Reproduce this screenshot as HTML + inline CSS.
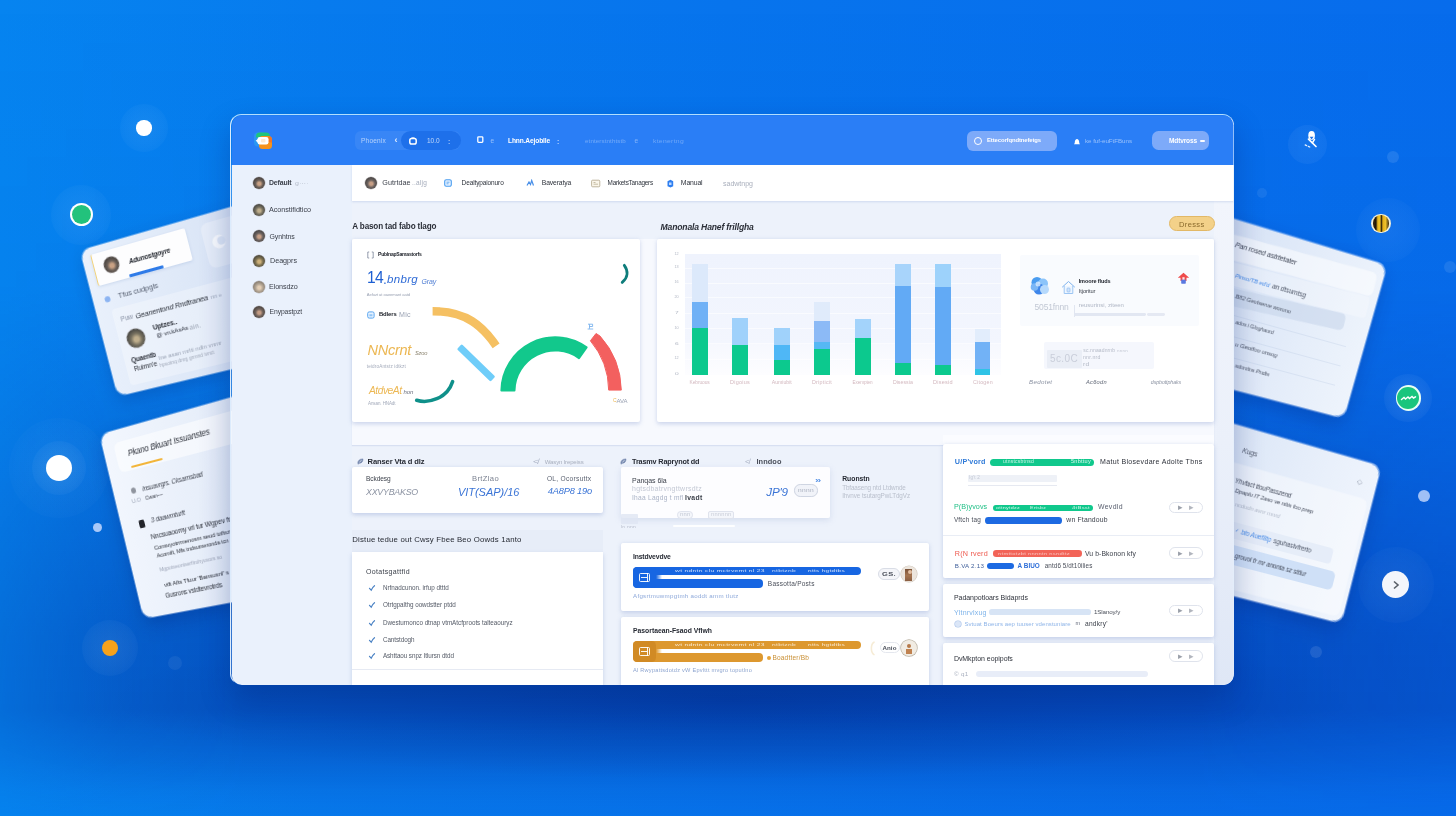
<!DOCTYPE html>
<html lang="en"><head><meta charset="utf-8"><title>Dashboard</title><style>
html,body{margin:0;padding:0}
body{width:1456px;height:816px;overflow:hidden;position:relative;font-family:"Liberation Sans",sans-serif;
background:
 radial-gradient(ellipse 620px 80px at 732px 700px,rgba(2,30,110,.36) 0,rgba(2,30,110,.16) 55%,rgba(2,30,110,0) 100%),
 linear-gradient(90deg,#0684f0 0%,#077bee 22%,#0774ed 50%,#076cec 100%);}
.a{position:absolute;display:block}
.t{position:absolute;white-space:nowrap;line-height:1;transform:translateY(-50%);display:block}
#shade{position:absolute;left:0;top:0;width:1456px;height:816px;background:linear-gradient(180deg,rgba(3,42,150,0) 0%,rgba(3,42,150,.04) 35%,rgba(3,42,150,.26) 58%,rgba(3,42,150,.48) 78%,rgba(3,42,150,.50) 87%,rgba(3,42,150,.28) 93%,rgba(3,42,150,.10) 97%,rgba(3,42,150,.03) 100%);-webkit-mask-image:linear-gradient(90deg,rgba(0,0,0,.5) 0%,rgba(0,0,0,.85) 8%,#000 17%,#000 82%,rgba(0,0,0,.75) 100%);mask-image:linear-gradient(90deg,rgba(0,0,0,.5) 0%,rgba(0,0,0,.85) 8%,#000 17%,#000 82%,rgba(0,0,0,.75) 100%)}
#win{position:absolute;left:0;top:0;width:1456px;height:816px;clip-path:inset(115.300px 222.600px 131px 231.800px round 10px)}
#frame{position:absolute;left:230.300px;top:113.800px;width:1001.600px;height:569.700px;border-radius:11.500px;border:1.500px solid;border-color:#b2defe #dcebfc rgba(225,240,255,.0) #dcebfc;box-shadow:0 14px 30px rgba(0,30,110,.30);}
</style></head>
<body>
<div id="shade"></div>
<div class="a" style="left:120.0px;top:104.0px;width:48.0px;height:48.0px;background:radial-gradient(circle,rgba(255,255,255,0.07) 0,rgba(255,255,255,0.039) 55%,rgba(255,255,255,0) 100%);border-radius:24px;"></div>
<div class="a" style="left:136.4px;top:120.4px;width:15.2px;height:15.2px;background:#fff;border-radius:7.6px;"></div>
<div class="a" style="left:51.0px;top:184.5px;width:60.0px;height:60.0px;background:radial-gradient(circle,rgba(255,255,255,0.07) 0,rgba(255,255,255,0.039) 55%,rgba(255,255,255,0) 100%);border-radius:30px;"></div>
<div class="a" style="left:69.8px;top:203.2px;width:22.8px;height:22.8px;background:#fff;border-radius:11.4px;"></div>
<div class="a" style="left:71.6px;top:205.0px;width:19.2px;height:19.2px;background:#22c27c;border-radius:9.6px;"></div>
<div class="a" style="left:9.0px;top:418.0px;width:100.0px;height:100.0px;background:radial-gradient(circle,rgba(255,255,255,0.045) 0,rgba(255,255,255,0.025) 55%,rgba(255,255,255,0) 100%);border-radius:50px;"></div>
<div class="a" style="left:32.0px;top:441.0px;width:54.0px;height:54.0px;background:radial-gradient(circle,rgba(255,255,255,0.09) 0,rgba(255,255,255,0.050) 55%,rgba(255,255,255,0) 100%);border-radius:27px;"></div>
<div class="a" style="left:45.6px;top:454.6px;width:26.4px;height:26.4px;background:#fff;border-radius:13.2px;"></div>
<div class="a" style="left:92.8px;top:523.1px;width:9.2px;height:9.2px;background:#a9c8f8;border-radius:4.6px;"></div>
<div class="a" style="left:82.0px;top:620.0px;width:56.0px;height:56.0px;background:radial-gradient(circle,rgba(255,255,255,0.08) 0,rgba(255,255,255,0.044) 55%,rgba(255,255,255,0) 100%);border-radius:28px;"></div>
<div class="a" style="left:101.6px;top:640.0px;width:16.0px;height:16.0px;background:#f7a21b;border-radius:8px;"></div>
<div class="a" style="left:167.6px;top:655.6px;width:14.0px;height:14.0px;background:rgba(255,255,255,.06);border-radius:7px;"></div>
<div class="a" style="left:1288.0px;top:124.6px;width:39.0px;height:39.0px;background:radial-gradient(circle,rgba(255,255,255,.06) 0,rgba(255,255,255,.045) 70%,rgba(255,255,255,0) 100%);border-radius:19.5px;"></div>
<svg class="a" style="left:1300px;top:128px" width="22" height="24" viewBox="1300 128 22 24"><ellipse cx="1311.600" cy="135.500" rx="3.300" ry="4.400" fill="#fff"/><path d="M1309.700 136.800l1.900 2.600 1.900-2.600z" fill="#1a6fe8"/><path d="M1308.500 139.200L1316 146.500" stroke="#fff" stroke-width="1.700" stroke-linecap="round"/><path d="M1314.500 139.300L1312.400 142.800" stroke="#fff" stroke-width="1.500" stroke-linecap="round"/><path d="M1305.200 144.900L1310.400 147.300" stroke="#fff" stroke-width="1.300" stroke-linecap="round" stroke-dasharray="1.600 1.800" opacity=".9"/></svg>
<div class="a" style="left:1386.5px;top:150.9px;width:12.0px;height:12.0px;background:rgba(255,255,255,.10);border-radius:6px;"></div>
<div class="a" style="left:1257.0px;top:188.0px;width:10.0px;height:10.0px;background:rgba(255,255,255,.07);border-radius:5px;"></div>
<div class="a" style="left:1356.0px;top:198.0px;width:64.0px;height:64.0px;background:radial-gradient(circle,rgba(255,255,255,0.055) 0,rgba(255,255,255,0.030) 55%,rgba(255,255,255,0) 100%);border-radius:32px;"></div>
<div class="a" style="left:1371.2px;top:213.5px;width:19.6px;height:19.6px;background:#f4f0d8;border-radius:9.8px;"></div>
<div class="a" style="left:1372.6px;top:214.9px;width:16.8px;height:16.8px;background:linear-gradient(90deg,#3a2a10 0,#1d1408 18%,#e9b81f 30%,#f2c528 44%,#2a1d0a 52%,#e2ae1a 62%,#f0c22a 78%,#3a2a10 100%);border-radius:8.4px;"></div>
<div class="a" style="left:1444.0px;top:261.4px;width:12.0px;height:12.0px;background:rgba(255,255,255,.09);border-radius:6px;"></div>
<div class="a" style="left:1384.4px;top:374.0px;width:48.0px;height:48.0px;background:radial-gradient(circle,rgba(255,255,255,0.1) 0,rgba(255,255,255,0.055) 55%,rgba(255,255,255,0) 100%);border-radius:24px;"></div>
<div class="a" style="left:1395.5px;top:385.1px;width:25.8px;height:25.8px;background:#e9fff4;border-radius:12.9px;"></div>
<div class="a" style="left:1397.4px;top:387.0px;width:22.0px;height:22.0px;background:#19c57d;border-radius:11px;"></div>
<svg class="a" style="left:1400px;top:394px" width="17" height="8" viewBox="0 0 17 8"><path d="M1.500 5.500l2.500-2 1.500 1.500 2.500-2 1.500 1.500 2.500-2 1.500 1.500 2-1.200" stroke="#fff" stroke-width="1.500" fill="none" stroke-linecap="round"/></svg>
<div class="a" style="left:1417.8px;top:489.9px;width:12.0px;height:12.0px;background:#9fc0f6;border-radius:6px;"></div>
<div class="a" style="left:1357.5px;top:546.8px;width:76.0px;height:76.0px;background:radial-gradient(circle,rgba(255,255,255,0.06) 0,rgba(255,255,255,0.033) 55%,rgba(255,255,255,0) 100%);border-radius:38px;"></div>
<div class="a" style="left:1381.8px;top:571.1px;width:27.4px;height:27.4px;background:#f3f5fb;border-radius:13.7px;"></div>
<svg class="a" style="left:1391.500px;top:580px" width="8" height="10" viewBox="0 0 8 10"><path d="M2 1.500l4 3.500-4 3.500" stroke="#5a5f68" stroke-width="1.600" fill="none"/></svg>
<div class="a" style="left:1310.0px;top:645.7px;width:12.0px;height:12.0px;background:rgba(255,255,255,.10);border-radius:6px;"></div>
<div class="a" style="left:0;top:0;width:190px;height:150px;transform-origin:0 0;transform:matrix3d(0.88849787,-0.33350527,0,-0.00028366272,0.25152466,0.9706428,0,1.6228164e-06,0,0,1,0,80.2,250.6,0,1);background:linear-gradient(100deg,#eaf1fc 0%,#dfe9f8 45%,#d0ddf3 100%);border-radius:10px;box-shadow:0 0 0 1px rgba(255,255,255,.35),0 6px 18px rgba(0,40,120,.25);"><div class="a" style="left:8.5px;top:6.5px;width:99.7px;height:32.2px;background:#fdfdfe;border-radius:2px;border-left:1.5px solid #f2d27a;box-shadow:0 1px 3px rgba(120,150,200,.25);"></div>
<div class="a" style="left:20.4px;top:13.5px;width:16.0px;height:16.0px;background:radial-gradient(circle at 52% 56%,#c9a184 0,#c9a184 16%,#6a5f58 40%,#4a4440 68%);border-radius:8.0px;box-shadow:0 0 0 .5px rgba(150,140,140,.5);"></div>
<span class="t" style="left:46.3px;top:23.9px;font-size:6.65px;color:#22262e;font-weight:700;font-style:italic;letter-spacing:-0.14px;">Adunostgoyre</span>
<div class="a" style="left:42.7px;top:35.9px;width:36.3px;height:2.8px;background:#2f7be8;border-radius:1px;"></div>
<div class="a" style="left:124.0px;top:8.0px;width:60.0px;height:44.0px;background:rgba(255,255,255,.30);border-radius:7px;"></div>
<div class="a" style="left:132.1px;top:21.7px;width:13.0px;height:13.0px;background:rgba(255,255,255,.75);border-radius:6.5px;"></div>
<div class="a" style="left:136.6px;top:23.5px;width:8.4px;height:8.4px;background:#dbe5f6;border-radius:4.2px;"></div>
<div class="a" style="left:12.4px;top:51.0px;width:6.0px;height:6.0px;background:#8cb4f2;border-radius:3px;"></div>
<span class="t" style="left:26.6px;top:54.3px;font-size:7.73px;color:#596273;letter-spacing:-0.14px;">Tfus cudpgls</span>
<div class="a" style="left:16.0px;top:65.0px;width:190.0px;height:78.0px;background:rgba(255,255,255,.30);border-radius:4px;"></div>
<span class="t" style="left:23.0px;top:76.8px;font-size:6.89px;color:#8a93a6;letter-spacing:-0.17px;">Puw</span>
<span class="t" style="left:38.7px;top:77.6px;font-size:7.49px;color:#2c313b;font-style:italic;letter-spacing:-0.15px;">Geanentond Rndtranea</span>
<span class="t" style="left:117.1px;top:78.5px;font-size:5.76px;color:#9aa4b8;letter-spacing:-0.11px;">nn »</span>
<div class="a" style="left:24.4px;top:88.6px;width:19.0px;height:19.0px;background:radial-gradient(circle at 52% 56%,#bfae8c 0,#bfae8c 16%,#76705f 40%,#4b4a45 68%);border-radius:9.5px;box-shadow:0 0 0 .5px rgba(150,140,140,.5);"></div>
<span class="t" style="left:53.0px;top:93.3px;font-size:6.84px;color:#2a2e37;font-weight:700;letter-spacing:-0.12px;">Uptzes..</span>
<span class="t" style="left:54.6px;top:101.2px;font-size:6.25px;color:#2f3440;letter-spacing:-0.13px;">@ vn.kAsAs</span>
<span class="t" style="left:89.4px;top:101.5px;font-size:6.5px;color:#8d95a6;letter-spacing:0.29px;transform-origin:0 50%;transform:translateY(-50%) scaleX(1.020);">ain.</span>
<span class="t" style="left:23.1px;top:118.7px;font-size:6.62px;color:#2a2e37;font-weight:700;letter-spacing:-0.15px;">Quaentb</span>
<span class="t" style="left:50.9px;top:123.4px;font-size:6px;color:#9aa3b5;letter-spacing:0.05px;">Ine asan mrlti ndln vnmr</span>
<span class="t" style="left:23.5px;top:127.9px;font-size:6.85px;color:#2a2e37;letter-spacing:-0.12px;">Ruirnn&#x27;e</span>
<span class="t" style="left:50.0px;top:130.7px;font-size:5.22px;color:#a3abbb;letter-spacing:-0.09px;">hpsotnq dnrg grmnd ivnct</span></div>
<div class="a" style="left:0;top:0;width:187px;height:189px;transform-origin:0 0;transform:matrix3d(0.83978728,-0.44017787,0,-0.00043896878,0.24079221,1.0045683,0,5.1869822e-05,0,0,1,0,99.7,434.7,0,1);background:linear-gradient(100deg,#f3f7fe 0%,#e8effa 45%,#d5e1f5 100%);border-radius:10px;box-shadow:0 0 0 1px rgba(255,255,255,.35),0 8px 20px rgba(0,30,110,.30);"><div class="a" style="left:12.0px;top:12.0px;width:190.0px;height:30.0px;background:rgba(255,255,255,.55);border-radius:6px;"></div>
<span class="t" style="left:24.9px;top:25.5px;font-size:8.16px;color:#2a2e37;font-style:italic;letter-spacing:-0.15px;">Pkano Bkuart Issuanstes</span>
<div class="a" style="left:24.6px;top:37.6px;width:34.6px;height:2.2px;background:#f2b53a;border-radius:1.2px;"></div>
<div class="a" style="left:18.9px;top:59.4px;width:5.2px;height:5.2px;background:#8f949e;border-radius:2.6px;"></div>
<span class="t" style="left:31.0px;top:62.6px;font-size:6.33px;color:#3a3f4a;font-style:italic;letter-spacing:-0.12px;">Insuavrgrs. Cksarnsbad</span>
<span class="t" style="left:17.0px;top:73.0px;font-size:5.69px;color:#9aa3b5;letter-spacing:-0.13px;">U.O</span>
<span class="t" style="left:31.8px;top:72.8px;font-size:5.3px;color:#3a3f4a;letter-spacing:-0.13px;">Cwan~~</span>
<div class="a" style="left:19.4px;top:91.5px;width:5.7px;height:8.1px;background:#23252b;border-radius:1.5px;"></div>
<span class="t" style="left:32.3px;top:95.0px;font-size:6.56px;color:#3a3f4a;font-style:italic;letter-spacing:-0.12px;">3 daawmturft</span>
<span class="t" style="left:28.0px;top:111.0px;font-size:6.75px;color:#2a2e37;letter-spacing:-0.12px;">Nncsuaoomy vrl tur Wgpev fr</span>
<span class="t" style="left:28.7px;top:121.7px;font-size:6.05px;color:#2a2e37;letter-spacing:-0.11px;">Consvyotrrmenosm seud toftsz</span>
<span class="t" style="left:29.6px;top:130.8px;font-size:5.71px;color:#2a2e37;letter-spacing:-0.10px;">Acomift, Mfs  tndsumeronda tcn</span>
<span class="t" style="left:29.0px;top:144.5px;font-size:5.35px;color:#a0a8ba;letter-spacing:-0.10px;">Mgpotseontserftruhyuvors  so</span>
<span class="t" style="left:29.9px;top:159.7px;font-size:6.2px;color:#2a2e37;letter-spacing:-0.10px;">vtft Afts  Tfuur &#x27;Bansusnf&#x27; s</span>
<span class="t" style="left:28.5px;top:170.5px;font-size:6.42px;color:#2a2e37;letter-spacing:-0.11px;">Gusrons  vstdtevrotrds</span></div>
<div class="a" style="left:0;top:0;width:198px;height:158px;transform-origin:0 0;transform:matrix3d(1.2979337,0.35470213,0,0.00024398771,-0.19277284,1.0394757,0,6.9358506e-05,0,0,1,0,1196.7,208.2,0,1);background:linear-gradient(95deg,#cfdcf3 0%,#dbe6f7 35%,#e6eefa 70%,#eef4fc 100%);border-radius:10px;box-shadow:0 0 0 1.200px rgba(235,243,255,.55),0 8px 20px rgba(0,30,110,.28);"><div class="a" style="left:-10.0px;top:13.0px;width:200.5px;height:23.0px;background:rgba(255,255,255,.50);border-radius:5px;transform:rotate(-1.500deg);box-shadow:0 0 0 .6px rgba(255,255,255,.6);"></div>
<div class="a" style="left:-10.0px;top:38.0px;width:200.5px;height:22.0px;background:rgba(255,255,255,.28);border-radius:4px;transform:rotate(-2deg);"></div>
<span class="t" style="left:44.9px;top:23.1px;font-size:7.04px;color:#3f4656;font-style:italic;letter-spacing:-0.12px;">Pan rosed astrtetater</span>
<span class="t" style="left:52.9px;top:51.7px;font-size:5.93px;color:#4a8de8;font-style:italic;letter-spacing:-0.11px;">Pinso/TB ed&#x27;d</span>
<span class="t" style="left:90.9px;top:50.6px;font-size:6.72px;color:#4f5768;font-style:italic;letter-spacing:-0.13px;">an dtsumtsg</span>
<div class="a" style="left:-10.0px;top:63.0px;width:182.0px;height:17.0px;background:rgba(196,211,234,.55);border-radius:5px;transform-origin:70px 8px;transform:rotate(-3deg);"></div>
<span class="t" style="left:58.5px;top:70.8px;font-size:5.84px;color:#4f5768;font-style:italic;letter-spacing:-0.11px;">B82 Geutserve woruno</span>
<div class="a" style="left:30.0px;top:88.0px;width:150.0px;height:0.6px;background:rgba(175,193,222,.28);"></div>
<div class="a" style="left:30.0px;top:108.0px;width:150.0px;height:0.6px;background:rgba(175,193,222,.28);"></div>
<div class="a" style="left:30.0px;top:128.0px;width:150.0px;height:0.6px;background:rgba(175,193,222,.28);"></div>
<span class="t" style="left:65.2px;top:95.2px;font-size:5.4px;color:#4f5768;font-style:italic;letter-spacing:-0.10px;">ados i Gloghaurd</span>
<span class="t" style="left:70.8px;top:115.3px;font-size:6.18px;color:#4f5768;font-style:italic;letter-spacing:-0.12px;">u Geotfoo unsog</span>
<span class="t" style="left:76.3px;top:135.5px;font-size:5.66px;color:#4f5768;font-style:italic;letter-spacing:-0.10px;">sdontins Pndts</span></div>
<div class="a" style="left:0;top:0;width:198px;height:161px;transform-origin:0 0;transform:matrix3d(1.2151455,0.36160784,0,0.00018507353,-0.19281623,1.0361552,0,4.7797252e-05,0,0,1,0,1190.8,412.1,0,1);background:linear-gradient(95deg,#d2dff4 0%,#dfe9f8 35%,#e9f0fb 70%,#f0f5fd 100%);border-radius:10px;box-shadow:0 0 0 1.200px rgba(235,243,255,.55),0 8px 20px rgba(0,30,110,.28);"><span class="t" style="left:58.1px;top:21.8px;font-size:6.95px;color:#4f5768;font-style:italic;letter-spacing:-0.15px;">Kugs</span>
<div class="a" style="left:-10.0px;top:36.0px;width:203.0px;height:119.0px;background:rgba(255,255,255,.40);border-radius:6px;box-shadow:0 0 0 .6px rgba(255,255,255,.55);"></div>
<span class="t" style="left:177.7px;top:19.8px;font-size:7px;color:#8d95a6;letter-spacing:0.32px;transform-origin:0 50%;transform:translateY(-50%) scaleX(1.044);">◇</span>
<span class="t" style="left:58.0px;top:52.3px;font-size:6.27px;color:#444b5b;font-style:italic;letter-spacing:-0.12px;">Yhvfact ttouPasszend</span>
<span class="t" style="left:60.5px;top:62.3px;font-size:5.97px;color:#444b5b;font-style:italic;letter-spacing:-0.10px;">Dpaplu IT 2aso ve nttis foo prep</span>
<span class="t" style="left:63.7px;top:73.8px;font-size:6.03px;color:#b4bccb;font-style:italic;letter-spacing:-0.12px;">ncdudn avnr mnrd</span>
<div class="a" style="left:36.5px;top:91.4px;width:135.4px;height:16.0px;background:rgba(225,234,247,.75);border-radius:4px;"></div>
<span class="t" style="left:70.1px;top:99.2px;font-size:5.06px;color:#5a8fe0;letter-spacing:-0.14px;">✓</span>
<span class="t" style="left:76.5px;top:99.4px;font-size:6.32px;color:#4a8de8;font-style:italic;letter-spacing:-0.11px;">bto Auef8tp</span>
<span class="t" style="left:110.0px;top:99.1px;font-size:6.56px;color:#4f5768;font-style:italic;letter-spacing:-0.12px;">sguhastvfrerto</span>
<div class="a" style="left:16.1px;top:113.2px;width:164.3px;height:19.0px;background:#cfe0f7;border-radius:5px;"></div>
<span class="t" style="left:76.1px;top:122.7px;font-size:6.35px;color:#444b5b;font-style:italic;letter-spacing:-0.10px;">grouol fr mr anonta sz sttlur</span></div>
<div id="frame"></div>
<div id="win">
<div class="a" style="left:230.0px;top:114.0px;width:1005.0px;height:51.0px;background:#2a7ef6;"></div>
<svg class="a" style="left:252.500px;top:130px" width="20" height="20" viewBox="0 0 20 20"><rect x="1" y="2.500" width="12" height="14" rx="4" fill="#2b96f2"/><path d="M3 6.500a4 4 0 0 1 4-4h6a4 4 0 0 1 4 4v1h-14z" fill="#1fc57c"/><rect x="6" y="6" width="13" height="13" rx="3.500" fill="#f6921c"/><path d="M15.500 6.200a3.600 3.600 0 0 1 3.500 3.600v3l-3.500-1z" fill="#f2682a" opacity=".7"/><rect x="4.500" y="7" width="11" height="7.500" rx="2.200" fill="#fff"/><path d="M2.600 10.800l2.400-1.800v3.600z" fill="#fff"/><rect x="8" y="9" width="4.500" height="3.500" rx="1" fill="#ffe9cf"/></svg>
<div class="a" style="left:355.0px;top:131.0px;width:105.0px;height:19.2px;background:rgba(255,255,255,.065);border-radius:6px;"></div>
<div class="a" style="left:400.5px;top:131.0px;width:60.0px;height:19.2px;background:#1e70ea;border-radius:9.6px;"></div>
<span class="t" style="left:361.0px;top:140.6px;font-size:6.5px;color:#fff;letter-spacing:0.22px;opacity:0.62;">Phoenix</span>
<span class="t" style="left:394.6px;top:140.1px;font-size:9px;color:#fff;font-weight:700;opacity:0.85;">‹</span>
<svg class="a" style="left:409px;top:137px" width="8" height="8" viewBox="0 0 8 8"><rect x=".8" y="1.600" width="6.400" height="5.400" rx="1.800" fill="none" stroke="#fff" stroke-width="1.500"/><rect x="2.500" y=".4" width="3" height="1.600" fill="#fff"/></svg>
<span class="t" style="left:427.0px;top:140.6px;font-size:6.5px;color:#fff;letter-spacing:-0.04px;opacity:0.7;">10.0</span>
<span class="t" style="left:448.0px;top:140.6px;font-size:7px;color:#fff;font-weight:700;opacity:0.6;">:</span>
<svg class="a" style="left:476.500px;top:135.500px" width="7" height="8" viewBox="0 0 7 8"><rect x=".8" y=".8" width="5" height="5.600" rx=".8" fill="none" stroke="#fff" stroke-width="1.300"/></svg>
<span class="t" style="left:490.5px;top:140.6px;font-size:6.5px;color:#fff;opacity:0.5;">e</span>
<span class="t" style="left:508.0px;top:140.6px;font-size:6.61px;color:#fff;font-weight:700;letter-spacing:-0.13px;">Lhnn.Aejoblle</span>
<span class="t" style="left:557.0px;top:140.6px;font-size:7px;color:#fff;font-weight:700;opacity:0.7;">:</span>
<span class="t" style="left:585.0px;top:140.6px;font-size:6.2px;color:#fff;letter-spacing:0.11px;opacity:0.32;">etnterstnthtstb</span>
<span class="t" style="left:634.5px;top:140.6px;font-size:6.5px;color:#fff;opacity:0.4;">e</span>
<span class="t" style="left:653.0px;top:140.6px;font-size:6.2px;color:#fff;letter-spacing:0.28px;transform-origin:0 50%;transform:translateY(-50%) scaleX(1.093);opacity:0.3;">ktenertng</span>
<div class="a" style="left:967.0px;top:130.8px;width:89.5px;height:20.2px;background:#7daaf9;border-radius:6px;"></div>
<div class="a" style="left:973.8px;top:136.8px;width:8.4px;height:8.4px;background:transparent;border-radius:4.2px;border:1.600px solid #fff;box-sizing:border-box;"></div>
<span class="t" style="left:987.0px;top:141.0px;font-size:5.91px;color:#fff;font-weight:700;letter-spacing:-0.11px;">Ettecorfqndtnefetgs</span>
<svg class="a" style="left:1072.500px;top:137.500px" width="8" height="8" viewBox="0 0 8 8"><path d="M1 6.200c.9-.7.8-1.800.9-2.900.2-1.500 1-2.400 2.100-2.400s1.900.9 2.100 2.400c.1 1.100 0 2.200.9 2.900z" fill="#fff"/></svg>
<span class="t" style="left:1085.0px;top:141.0px;font-size:6.2px;color:#fff;letter-spacing:-0.03px;opacity:0.5;">ke fuf-euFtFBuns</span>
<div class="a" style="left:1152.0px;top:131.3px;width:57.0px;height:19.0px;background:#7daaf9;border-radius:6.5px;"></div>
<span class="t" style="left:1169.0px;top:141.0px;font-size:6.55px;color:#fff;font-weight:700;letter-spacing:-0.14px;">Mdtvross</span>
<div class="a" style="left:1199.5px;top:139.8px;width:5.0px;height:2.2px;background:#fff;border-radius:1px;opacity:.95;"></div>
<div class="a" style="left:230.0px;top:165.0px;width:122.0px;height:520.0px;background:#eaf1fc;"></div>
<div class="a" style="left:352.0px;top:165.0px;width:883.0px;height:520.0px;background:#edf2fb;"></div>
<div class="a" style="left:1214.0px;top:201.0px;width:21.0px;height:484.0px;background:linear-gradient(180deg,#f2f5fc 0%,#ebf0fa 50%,#dfe7f6 100%);"></div>
<div class="a" style="left:252.8px;top:177.3px;width:12.0px;height:12.0px;background:radial-gradient(circle at 52% 56%,#c9a184 0,#c9a184 16%,#6a5f58 40%,#4a4440 68%);border-radius:6.0px;box-shadow:0 0 0 .5px rgba(150,140,140,.5);"></div>
<span class="t" style="left:269.0px;top:183.3px;font-size:6.9px;color:#3a3f49;font-weight:700;letter-spacing:-0.13px;">Default</span>
<span class="t" style="left:294.5px;top:183.3px;font-size:6px;color:#b3bac8;letter-spacing:0.27px;transform-origin:0 50%;transform:translateY(-50%) scaleX(1.165);">g·∙∙·</span>
<div class="a" style="left:252.8px;top:204.2px;width:12.0px;height:12.0px;background:radial-gradient(circle at 52% 56%,#bfae8c 0,#bfae8c 16%,#76705f 40%,#4b4a45 68%);border-radius:6.0px;box-shadow:0 0 0 .5px rgba(150,140,140,.5);"></div>
<span class="t" style="left:269.0px;top:210.2px;font-size:7.2px;color:#3a3f49;letter-spacing:-0.03px;">Aconstifidtico</span>
<div class="a" style="left:252.8px;top:229.8px;width:12.0px;height:12.0px;background:radial-gradient(circle at 52% 56%,#c79f86 0,#c79f86 16%,#6b625f 40%,#4a4645 68%);border-radius:6.0px;box-shadow:0 0 0 .5px rgba(150,140,140,.5);"></div>
<span class="t" style="left:269.6px;top:235.8px;font-size:6.98px;color:#3a3f49;letter-spacing:-0.14px;">Gynhtns</span>
<div class="a" style="left:252.8px;top:255.3px;width:12.0px;height:12.0px;background:radial-gradient(circle at 52% 56%,#cdb07a 0,#cdb07a 16%,#7d7150 40%,#4f4a3c 68%);border-radius:6.0px;box-shadow:0 0 0 .5px rgba(150,140,140,.5);"></div>
<span class="t" style="left:270.0px;top:261.3px;font-size:7.2px;color:#3a3f49;letter-spacing:-0.03px;">Deagprs</span>
<div class="a" style="left:252.8px;top:280.5px;width:12.0px;height:12.0px;background:radial-gradient(circle at 52% 56%,#e3cdb4 0,#e3cdb4 16%,#b3a594 40%,#8a7f72 68%);border-radius:6.0px;box-shadow:0 0 0 .5px rgba(150,140,140,.5);"></div>
<span class="t" style="left:269.0px;top:286.5px;font-size:7.2px;color:#3a3f49;letter-spacing:-0.12px;">Elonsdzo</span>
<div class="a" style="left:252.8px;top:306.3px;width:12.0px;height:12.0px;background:radial-gradient(circle at 52% 56%,#c49c84 0,#c49c84 16%,#6f625b 40%,#4d4541 68%);border-radius:6.0px;box-shadow:0 0 0 .5px rgba(150,140,140,.5);"></div>
<span class="t" style="left:269.6px;top:312.3px;font-size:6.81px;color:#3a3f49;letter-spacing:-0.13px;">Enypastpzt</span>
<div class="a" style="left:352.0px;top:165.0px;width:883.0px;height:36.0px;background:#fff;box-shadow:0 1px 2px rgba(150,170,215,.35);"></div>
<div class="a" style="left:365.0px;top:177.0px;width:12.0px;height:12.0px;background:radial-gradient(circle at 52% 56%,#c79f86 0,#c79f86 16%,#6b625f 40%,#4a4645 68%);border-radius:6.0px;box-shadow:0 0 0 .5px rgba(150,140,140,.5);"></div>
<span class="t" style="left:382.3px;top:183.0px;font-size:7.2px;color:#3a3f49;letter-spacing:0.04px;">Gutrtdae</span>
<span class="t" style="left:412.0px;top:183.0px;font-size:6.5px;color:#a4abba;letter-spacing:0.21px;">..aljg</span>
<svg class="a" style="left:444px;top:179px" width="8" height="8" viewBox="0 0 8 8"><rect x=".7" y=".7" width="6.600" height="6.600" rx="1.500" fill="#e5f1ff" stroke="#4a9df0" stroke-width="1.100"/><path d="M2.500 3.200h3M2.500 4.800h2" stroke="#4a9df0" stroke-width=".8"/></svg>
<span class="t" style="left:461.6px;top:183.0px;font-size:6.51px;color:#2e333c;letter-spacing:-0.12px;">Dealtypaionuro</span>
<svg class="a" style="left:525.500px;top:179px" width="9" height="8" viewBox="0 0 9 8"><path d="M1 6.500l2-3.500 1.500 2.500 1.200-4 1.800 5" stroke="#4a90e8" stroke-width="1.200" fill="none"/></svg>
<span class="t" style="left:541.8px;top:183.0px;font-size:6.79px;color:#2e333c;letter-spacing:-0.13px;">Baveratya</span>
<svg class="a" style="left:590.500px;top:178.500px" width="10" height="9" viewBox="0 0 10 9"><rect x=".6" y="1.200" width="8.200" height="6.600" rx="1" fill="#fbf6ea" stroke="#b9ae94" stroke-width=".9"/><path d="M2.500 3.500h2M2.500 5.200h4.500" stroke="#b9ae94" stroke-width=".8"/></svg>
<span class="t" style="left:607.6px;top:183.0px;font-size:6.38px;color:#2e333c;letter-spacing:-0.24px;">MarketsTanagers</span>
<svg class="a" style="left:666px;top:178.500px" width="8" height="9" viewBox="0 0 8 9"><path d="M1.500 2.200l3-1.400 2.700 1.400v5l-2.700 1.300-3-1.300z" fill="#2f7ff0"/><path d="M3 3.500h2.500v2.500h-2.500z" fill="#bcd8ff"/></svg>
<span class="t" style="left:680.8px;top:183.0px;font-size:6.88px;color:#2e333c;letter-spacing:-0.14px;">Manual</span>
<span class="t" style="left:723.0px;top:183.0px;font-size:7px;color:#a9afbc;">sadwtnpg</span>
<span class="t" style="left:352.3px;top:227.0px;font-size:8.15px;color:#2b2f38;font-weight:700;letter-spacing:-0.15px;">A bason tad fabo tlago</span>
<span class="t" style="left:660.6px;top:227.0px;font-size:8.59px;color:#2b2f38;font-weight:700;font-style:italic;letter-spacing:-0.16px;">Manonala Hanef frillgha</span>
<div class="a" style="left:1169.0px;top:216.0px;width:45.5px;height:15.4px;background:#f3d189;border-radius:7.7px;border:1px solid #e2b866;box-sizing:border-box;"></div>
<span class="t" style="left:1179.0px;top:223.8px;font-size:7px;color:#8a6a2c;letter-spacing:0.32px;transform-origin:0 50%;transform:translateY(-50%) scaleX(1.077);">Dresss</span>
<div class="a" style="left:352.0px;top:239.0px;width:862.0px;height:206.0px;background:#f7f9fe;box-shadow:0 1px 1px rgba(160,180,220,.28);"></div>
<div class="a" style="left:352.3px;top:239.4px;width:287.7px;height:182.4px;background:#fff;border-radius:2px;box-shadow:0 1.500px 4px rgba(120,145,200,.34);"></div>
<div class="a" style="left:657.3px;top:238.8px;width:556.4px;height:182.8px;background:#fff;border-radius:2px;box-shadow:0 1.500px 4px rgba(120,145,200,.34);"></div>
<svg class="a" style="left:366.500px;top:251px" width="7" height="8" viewBox="0 0 7 8"><path d="M2.200 1h-1.400v6h1.400M4.800 1h1.400v6h-1.400" stroke="#8a93a5" stroke-width=".9" fill="none"/></svg>
<span class="t" style="left:378.0px;top:254.6px;font-size:5.29px;color:#20242c;font-weight:700;letter-spacing:-0.24px;transform-origin:0 50%;transform:translateY(-50%) scaleX(0.958);">PublnapSamastorfs</span>
<span class="t" style="left:367.0px;top:278.3px;font-size:16.8px;color:#1d5fd2;letter-spacing:-0.76px;transform-origin:0 50%;transform:translateY(-50%) scaleX(0.932);font-family:"Liberation Sans",sans-serif;">14</span>
<span class="t" style="left:383.3px;top:280.3px;font-size:12px;color:#1d5fd2;">.</span>
<span class="t" style="left:387.0px;top:280.2px;font-size:11.5px;color:#2f6bd6;font-style:italic;letter-spacing:0.32px;">bnbrg</span>
<span class="t" style="left:421.5px;top:281.5px;font-size:6.96px;color:#4a7ad2;font-style:italic;letter-spacing:-0.15px;">Gray</span>
<span class="t" style="left:366.8px;top:294.7px;font-size:4.12px;color:#9aa2b3;letter-spacing:-0.07px;">Aefuzt at oaeemant aatd</span>
<svg class="a" style="left:366.500px;top:311px" width="8" height="8" viewBox="0 0 8 8"><rect x=".7" y=".9" width="6.400" height="6.200" rx="1.500" fill="#e6f2ff" stroke="#5aa6f0" stroke-width="1"/><path d="M2.400 3.200h3v2h-3z" fill="#5aa6f0" opacity=".6"/></svg>
<span class="t" style="left:379.0px;top:315.2px;font-size:5.88px;color:#20242c;font-weight:700;letter-spacing:-0.12px;">Bdlers</span>
<span class="t" style="left:399.0px;top:315.2px;font-size:6.5px;color:#9aa2b3;letter-spacing:0.29px;transform-origin:0 50%;transform:translateY(-50%) scaleX(1.092);">Mic</span>
<span class="t" style="left:367.5px;top:350.0px;font-size:14.54px;color:#ecb752;font-style:italic;letter-spacing:-0.29px;font-family:"Liberation Serif",serif;">NNcrnt</span>
<span class="t" style="left:415.4px;top:353.6px;font-size:5.88px;color:#8b8470;font-style:italic;letter-spacing:-0.26px;transform-origin:0 50%;transform:translateY(-50%) scaleX(0.980);">Szoo</span>
<span class="t" style="left:366.8px;top:366.9px;font-size:4.6px;color:#a3aaba;letter-spacing:0.15px;">teidroAntstz idtkzt</span>
<span class="t" style="left:368.6px;top:389.7px;font-size:10.92px;color:#ecb752;font-style:italic;letter-spacing:-0.49px;transform-origin:0 50%;transform:translateY(-50%) scaleX(0.937);font-family:"Liberation Serif",serif;">AtdveAt</span>
<span class="t" style="left:403.6px;top:392.0px;font-size:6.05px;color:#6d7280;font-style:italic;letter-spacing:-0.13px;">hon</span>
<span class="t" style="left:368.0px;top:403.7px;font-size:4.5px;color:#a3aaba;letter-spacing:-0.09px;">Ansan. HNAdt</span>
<svg class="a" style="left:352px;top:239px" width="288" height="183" viewBox="352 239 288 183"><path d="M432.600 311.200C466.600 311.200 482.500 326 496.100 345.800" stroke="#f5c062" stroke-width="8.400" fill="none" stroke-linecap="butt"/><rect x="0" y="-3.500" width="46.800" height="7" rx="1.300" fill="#6fcdf9" transform="translate(459.300 346.600) rotate(44.100)"/><path d="M416.700 400.300C428 403.600 447 399 452.600 381.600" stroke="#0f908a" stroke-width="3.500" fill="none" stroke-linecap="round"/><path d="M416.500 400.200C421 401.800 427 402.300 432 401.600" stroke="#fff" stroke-width="1.200" fill="none" opacity=".0"/><path d="M501.400 390.500A53.900 53.900 0 0 1 586.600 347.400L579 358.100A40.800 40.800 0 0 0 514.500 390.500Z" fill="#12c88c" stroke="#12c88c" stroke-width="2" stroke-linejoin="round"/><path d="M608.700 390.100A77.700 77.700 0 0 0 590.400 340.800L596 333.500L599.900 335.900A83.100 83.100 0 0 1 621.300 390.100Z" fill="#f3605f" stroke="#f3605f" stroke-width="1" stroke-linejoin="round"/><path d="M624.300 265.300C628.500 271 628 277.500 622.200 282.400" stroke="#0e7d7b" stroke-width="2.800" fill="none" stroke-linecap="round"/><path d="M588 324.200h4.600v2.300h-3.600M589.500 324.200v4.600M587.600 329h5.600" stroke="#7ab3ee" stroke-width=".9" fill="none"/></svg>
<span class="t" style="left:613.0px;top:401.1px;font-size:5.04px;color:#ecb752;letter-spacing:-0.23px;">C</span>
<span class="t" style="left:616.6px;top:401.1px;font-size:6px;color:#9aa2b3;letter-spacing:-0.14px;">AVA</span>
<div class="a" style="left:685.2px;top:253.8px;width:316.0px;height:90.0px;background:linear-gradient(180deg,#eff3fd 0%,#f3f6fe 100%);"></div>
<div class="a" style="left:685.2px;top:343.8px;width:316.0px;height:31.2px;background:linear-gradient(180deg,#f6f8fe 0%,#fdfdff 100%);"></div>
<div class="a" style="left:685.2px;top:267.7px;width:316.0px;height:0.8px;background:rgba(255,255,255,.6);"></div>
<div class="a" style="left:685.2px;top:282.6px;width:316.0px;height:0.8px;background:rgba(255,255,255,.6);"></div>
<div class="a" style="left:685.2px;top:297.4px;width:316.0px;height:0.8px;background:rgba(255,255,255,.6);"></div>
<div class="a" style="left:685.2px;top:312.8px;width:316.0px;height:0.8px;background:rgba(255,255,255,.6);"></div>
<div class="a" style="left:685.2px;top:328.3px;width:316.0px;height:0.8px;background:rgba(255,255,255,.6);"></div>
<div class="a" style="left:685.2px;top:343.2px;width:316.0px;height:0.8px;background:rgba(255,255,255,.6);"></div>
<div class="a" style="left:685.2px;top:358.5px;width:316.0px;height:0.8px;background:rgba(255,255,255,.6);"></div>
<span class="t" style="left:674.5px;top:254.5px;font-size:3.74px;color:#b0b6c3;letter-spacing:-0.08px;">12</span>
<span class="t" style="left:674.5px;top:268.1px;font-size:3.74px;color:#b0b6c3;letter-spacing:-0.08px;">13</span>
<span class="t" style="left:674.5px;top:282.5px;font-size:3.74px;color:#b0b6c3;letter-spacing:-0.08px;">16</span>
<span class="t" style="left:674.5px;top:298.3px;font-size:3.74px;color:#b0b6c3;letter-spacing:-0.08px;">20</span>
<span class="t" style="left:674.5px;top:313.4px;font-size:4.2px;color:#b0b6c3;letter-spacing:0.19px;transform-origin:0 50%;transform:translateY(-50%) scaleX(1.584);">7</span>
<span class="t" style="left:674.5px;top:329.0px;font-size:3.74px;color:#b0b6c3;letter-spacing:-0.08px;">10</span>
<span class="t" style="left:674.5px;top:344.1px;font-size:4.2px;color:#b0b6c3;letter-spacing:0.19px;transform-origin:0 50%;transform:translateY(-50%) scaleX(1.584);">6</span>
<span class="t" style="left:674.5px;top:358.9px;font-size:3.74px;color:#b0b6c3;letter-spacing:-0.08px;">12</span>
<span class="t" style="left:674.5px;top:374.0px;font-size:4.2px;color:#b0b6c3;letter-spacing:0.19px;transform-origin:0 50%;transform:translateY(-50%) scaleX(1.584);">0</span>
<div class="a" style="left:691.6px;top:328.0px;width:16.1px;height:47.0px;background:#0cc98e;"></div>
<div class="a" style="left:691.6px;top:302.0px;width:16.1px;height:26.0px;background:#70b1f6;"></div>
<div class="a" style="left:691.6px;top:264.4px;width:16.1px;height:37.6px;background:#dce9fb;"></div>
<span class="t" style="left:689.6px;top:382.9px;font-size:4.86px;color:#d2b7be;letter-spacing:-0.10px;">Kebruous</span>
<div class="a" style="left:732.2px;top:344.8px;width:16.0px;height:30.2px;background:#0cc98e;"></div>
<div class="a" style="left:732.2px;top:318.1px;width:16.0px;height:26.7px;background:#9fd1fb;"></div>
<span class="t" style="left:730.2px;top:382.9px;font-size:5.2px;color:#d2b7be;letter-spacing:0.23px;transform-origin:0 50%;transform:translateY(-50%) scaleX(1.054);">Digoius</span>
<div class="a" style="left:773.7px;top:360.1px;width:16.1px;height:14.9px;background:#0cc98e;"></div>
<div class="a" style="left:773.7px;top:344.8px;width:16.1px;height:15.3px;background:#4fb7f6;"></div>
<div class="a" style="left:773.7px;top:328.2px;width:16.1px;height:16.6px;background:#a0d2fb;"></div>
<span class="t" style="left:771.8px;top:382.9px;font-size:5.2px;color:#d2b7be;letter-spacing:-0.03px;">Aumiubit</span>
<div class="a" style="left:814.0px;top:349.3px;width:16.0px;height:25.7px;background:#0cc98e;"></div>
<div class="a" style="left:814.0px;top:342.3px;width:16.0px;height:7.0px;background:#56b8f4;"></div>
<div class="a" style="left:814.0px;top:320.6px;width:16.0px;height:21.7px;background:#8cbaf6;"></div>
<div class="a" style="left:814.0px;top:301.5px;width:16.0px;height:19.1px;background:#e0ebfb;"></div>
<span class="t" style="left:812.0px;top:382.9px;font-size:5.2px;color:#d2b7be;letter-spacing:0.23px;transform-origin:0 50%;transform:translateY(-50%) scaleX(1.029);">Dripticit</span>
<div class="a" style="left:854.6px;top:337.9px;width:16.0px;height:37.1px;background:#0cc98e;"></div>
<div class="a" style="left:854.6px;top:319.1px;width:16.0px;height:18.8px;background:#a3d3fb;"></div>
<span class="t" style="left:852.6px;top:382.9px;font-size:4.62px;color:#d2b7be;letter-spacing:-0.10px;">Exempten</span>
<div class="a" style="left:894.9px;top:362.9px;width:16.0px;height:12.1px;background:#0cc98e;"></div>
<div class="a" style="left:894.9px;top:286.0px;width:16.0px;height:76.9px;background:#62aaf5;"></div>
<div class="a" style="left:894.9px;top:264.4px;width:16.0px;height:21.6px;background:#a8d4fb;"></div>
<span class="t" style="left:892.9px;top:382.9px;font-size:5.2px;color:#d2b7be;letter-spacing:0.04px;">Disessia</span>
<div class="a" style="left:935.2px;top:364.6px;width:16.0px;height:10.4px;background:#0cc98e;"></div>
<div class="a" style="left:935.2px;top:287.2px;width:16.0px;height:77.4px;background:#62aaf5;"></div>
<div class="a" style="left:935.2px;top:264.4px;width:16.0px;height:22.8px;background:#9dd2fb;"></div>
<span class="t" style="left:933.2px;top:382.9px;font-size:5.2px;color:#d2b7be;letter-spacing:0.23px;transform-origin:0 50%;transform:translateY(-50%) scaleX(1.070);">Disesid</span>
<div class="a" style="left:974.7px;top:368.8px;width:15.6px;height:6.2px;background:#2fc3e6;"></div>
<div class="a" style="left:974.7px;top:342.3px;width:15.6px;height:26.5px;background:#72b2f6;"></div>
<div class="a" style="left:974.7px;top:329.2px;width:15.6px;height:13.1px;background:#e2edfc;"></div>
<span class="t" style="left:972.5px;top:382.9px;font-size:5.2px;color:#d2b7be;letter-spacing:0.23px;transform-origin:0 50%;transform:translateY(-50%) scaleX(1.022);">Citogen</span>
<div class="a" style="left:1019.8px;top:254.6px;width:179.2px;height:71.0px;background:#f9fbfe;border-radius:2px;"></div>
<svg class="a" style="left:1029px;top:274.500px" width="22" height="22" viewBox="0 0 22 22"><circle cx="8" cy="7.500" r="5.500" fill="#4a9cf0"/><circle cx="14" cy="8.500" r="5" fill="#8cc4fa"/><circle cx="10" cy="14" r="5.500" fill="#3f86ea"/><circle cx="15.500" cy="14.500" r="4.500" fill="#b6d9fc"/><circle cx="5.500" cy="12" r="3.800" fill="#7ab6f6"/><circle cx="9" cy="9" r="2.500" fill="#d8ebff" opacity=".8"/></svg>
<svg class="a" style="left:1060.500px;top:280px" width="15" height="15" viewBox="0 0 15 15"><path d="M1.200 7.200l6.300-5.700 6.300 5.700" stroke="#7fb3ee" stroke-width="1" fill="none"/><path d="M3.200 6v7.500h8.600v-7.500" stroke="#9cc5f3" stroke-width="1" fill="#eef6ff"/><rect x="6" y="8" width="3" height="4" rx=".8" fill="#cfe3fb" stroke="#8fbcf0" stroke-width=".7"/></svg>
<span class="t" style="left:1078.7px;top:282.1px;font-size:5.53px;color:#20242c;font-weight:700;letter-spacing:-0.11px;">Imoore fluds</span>
<span class="t" style="left:1078.7px;top:292.3px;font-size:5.68px;color:#3a3f49;letter-spacing:-0.07px;">Itjoritur</span>
<span class="t" style="left:1078.7px;top:304.7px;font-size:6px;color:#b0b7c5;letter-spacing:-0.01px;">reusurinsi, ziteen</span>
<span class="t" style="left:1034.5px;top:306.5px;font-size:8.5px;color:#c2c8d4;letter-spacing:-0.16px;">5051fnnn</span>
<div class="a" style="left:1074.0px;top:305.0px;width:0.8px;height:12.0px;background:#e1e6f1;"></div>
<div class="a" style="left:1074.0px;top:313.3px;width:71.5px;height:2.8px;background:#e2e7f2;border-radius:1.4px;"></div>
<div class="a" style="left:1147.0px;top:313.3px;width:18.0px;height:2.8px;background:#e5e9f3;border-radius:1.4px;"></div>
<svg class="a" style="left:1177px;top:271.500px" width="13" height="13" viewBox="0 0 13 13"><path d="M6.500 .8l5.700 5h-2.700v3.200h-6v-3.200h-2.700z" fill="#ef4b4b"/><rect x="4.200" y="7.500" width="4.600" height="4.200" rx=".6" fill="#5a78e0"/><rect x="5.400" y="5.200" width="2.200" height="2.400" fill="#fff" opacity=".85"/></svg>
<div class="a" style="left:1044.2px;top:341.9px;width:109.4px;height:26.8px;background:#f5f7fd;border-radius:2px;"></div>
<div class="a" style="left:1046.6px;top:350.0px;width:35.0px;height:17.5px;background:#eaeef6;border-radius:1px;"></div>
<span class="t" style="left:1050.0px;top:358.8px;font-size:10px;color:#c9ceda;letter-spacing:0.38px;">5c.0C</span>
<span class="t" style="left:1083.3px;top:350.2px;font-size:5px;color:#b4bac7;letter-spacing:0.13px;">sc.nnaadnrnb</span>
<span class="t" style="left:1117.0px;top:350.8px;font-size:4.2px;color:#c6cbd6;letter-spacing:0.19px;transform-origin:0 50%;transform:translateY(-50%) scaleX(1.089);">nnnn</span>
<span class="t" style="left:1083.3px;top:357.0px;font-size:5px;color:#b4bac7;letter-spacing:0.22px;transform-origin:0 50%;transform:translateY(-50%) scaleX(1.033);">nnr.nrd</span>
<span class="t" style="left:1083.3px;top:363.6px;font-size:5px;color:#b4bac7;letter-spacing:0.22px;transform-origin:0 50%;transform:translateY(-50%) scaleX(1.368);">rd</span>
<span class="t" style="left:1029.0px;top:382.6px;font-size:5.6px;color:#8c93a3;font-style:italic;letter-spacing:0.25px;transform-origin:0 50%;transform:translateY(-50%) scaleX(1.111);">Bedotet</span>
<span class="t" style="left:1085.7px;top:382.6px;font-size:5.6px;color:#5f6675;font-style:italic;letter-spacing:0.25px;transform-origin:0 50%;transform:translateY(-50%) scaleX(1.019);">Ac6odn</span>
<span class="t" style="left:1150.8px;top:382.6px;font-size:5.3px;color:#8c93a3;font-style:italic;letter-spacing:-0.10px;">dspbottphaks</span>
<svg class="a" style="left:357.3px;top:458.2px" width="7" height="7" viewBox="0 0 7 7"><path d="M.8 5.600C.6 2.600 2.600 .9 6 .9 6 3.600 4.600 5.400 2 5.300L1.200 6.400" fill="#7d8fb3" stroke="#6a7da6" stroke-width=".5"/><path d="M2.400 4.200L4.600 2.200" stroke="#e9effa" stroke-width=".7"/></svg>
<span class="t" style="left:367.6px;top:462.0px;font-size:7.58px;color:#262a33;font-weight:700;letter-spacing:-0.14px;">Ranser Vta d dlz</span>
<span class="t" style="left:533.0px;top:461.5px;font-size:6.5px;color:#aab2c4;letter-spacing:0.29px;transform-origin:0 50%;transform:translateY(-50%) scaleX(1.468);">≮</span>
<span class="t" style="left:544.7px;top:461.5px;font-size:6.0px;color:#a7aebd;letter-spacing:-0.11px;">Wasyn lrepeiss</span>
<div class="a" style="left:352.3px;top:467.0px;width:250.7px;height:45.6px;background:#fff;border-radius:2px;box-shadow:0 1.500px 4px rgba(120,145,200,.34);"></div>
<span class="t" style="left:366.0px;top:478.9px;font-size:6.6px;color:#3a3f49;letter-spacing:-0.10px;">Bckdesg</span>
<span class="t" style="left:472.4px;top:478.9px;font-size:6.6px;color:#7b8291;letter-spacing:0.30px;transform-origin:0 50%;transform:translateY(-50%) scaleX(1.156);">BrtZlao</span>
<span class="t" style="left:546.9px;top:478.9px;font-size:6.6px;color:#5a6170;letter-spacing:0.30px;">OL, Ocorsuttx</span>
<span class="t" style="left:366.0px;top:492.1px;font-size:8.85px;color:#8c93a2;font-style:italic;letter-spacing:-0.23px;">XXVYBAKSO</span>
<span class="t" style="left:458.0px;top:492.1px;font-size:11px;color:#3a74d6;font-style:italic;letter-spacing:-0.04px;">VIT(SAP)/16</span>
<span class="t" style="left:547.8px;top:492.1px;font-size:9.27px;color:#3a74d6;font-style:italic;letter-spacing:-0.20px;">4A8P8 19o</span>
<div class="a" style="left:352.3px;top:530.4px;width:250.7px;height:21.5px;background:#e7edf8;"></div>
<span class="t" style="left:352.3px;top:540.2px;font-size:7.8px;color:#262a33;letter-spacing:0.17px;">Distue tedue out Cwsy Fbee Beo Oowds 1anto</span>
<div class="a" style="left:352.3px;top:551.9px;width:250.7px;height:133.5px;background:#fff;box-shadow:0 1.500px 4px rgba(120,145,200,.34);"></div>
<div class="a" style="left:352.3px;top:668.5px;width:250.7px;height:1.0px;background:#e6eaf3;"></div>
<span class="t" style="left:366.0px;top:571.8px;font-size:6.8px;color:#3a3f49;letter-spacing:0.31px;transform-origin:0 50%;transform:translateY(-50%) scaleX(1.032);">Ootatsgattfid</span>
<svg class="a" style="left:368px;top:584.0px" width="8" height="8" viewBox="0 0 8 8"><path d="M1.500 4.300l1.700 1.900c.9-2.100 1.900-3.400 3.300-4.500" stroke="#4a82c4" stroke-width="1.200" fill="none" stroke-linecap="round"/></svg>
<span class="t" style="left:382.9px;top:588.0px;font-size:6.3px;color:#545a66;">Nrfnadcunon. irfup dtttd</span>
<svg class="a" style="left:368px;top:600.9px" width="8" height="8" viewBox="0 0 8 8"><path d="M1.500 4.300l1.700 1.900c.9-2.100 1.900-3.400 3.300-4.500" stroke="#4a82c4" stroke-width="1.200" fill="none" stroke-linecap="round"/></svg>
<span class="t" style="left:382.9px;top:604.9px;font-size:6.3px;color:#545a66;letter-spacing:-0.05px;">Otrtgpalthg oowdstter ptdd</span>
<svg class="a" style="left:368px;top:618.7px" width="8" height="8" viewBox="0 0 8 8"><path d="M1.500 4.300l1.700 1.900c.9-2.100 1.900-3.400 3.300-4.500" stroke="#4a82c4" stroke-width="1.200" fill="none" stroke-linecap="round"/></svg>
<span class="t" style="left:382.9px;top:622.7px;font-size:6.3px;color:#545a66;letter-spacing:-0.02px;">Dwesturnonco dtnap vtmAtcfproots talteaouryz</span>
<svg class="a" style="left:368px;top:635.5px" width="8" height="8" viewBox="0 0 8 8"><path d="M1.500 4.300l1.700 1.900c.9-2.100 1.900-3.400 3.300-4.500" stroke="#4a82c4" stroke-width="1.200" fill="none" stroke-linecap="round"/></svg>
<span class="t" style="left:382.9px;top:639.5px;font-size:6.3px;color:#545a66;letter-spacing:-0.06px;">Cantstdogh</span>
<svg class="a" style="left:368px;top:652.4px" width="8" height="8" viewBox="0 0 8 8"><path d="M1.500 4.300l1.700 1.900c.9-2.100 1.900-3.400 3.300-4.500" stroke="#4a82c4" stroke-width="1.200" fill="none" stroke-linecap="round"/></svg>
<span class="t" style="left:382.9px;top:656.4px;font-size:6.3px;color:#545a66;letter-spacing:-0.07px;">Ashttaou snpz Itlursn dtdd</span>
<svg class="a" style="left:620.4px;top:457.6px" width="7" height="7" viewBox="0 0 7 7"><path d="M.8 5.600C.6 2.600 2.600 .9 6 .9 6 3.600 4.600 5.400 2 5.300L1.200 6.400" fill="#7d8fb3" stroke="#6a7da6" stroke-width=".5"/><path d="M2.400 4.200L4.600 2.200" stroke="#e9effa" stroke-width=".7"/></svg>
<span class="t" style="left:632.0px;top:462.0px;font-size:7.26px;color:#262a33;font-weight:700;letter-spacing:-0.15px;">Trasmv Raprynot dd</span>
<span class="t" style="left:745.0px;top:461.5px;font-size:6.5px;color:#aab2c4;letter-spacing:0.29px;transform-origin:0 50%;transform:translateY(-50%) scaleX(1.223);">≮</span>
<span class="t" style="left:756.4px;top:462.0px;font-size:7.4px;color:#4a4f5a;font-weight:700;letter-spacing:0.09px;">Inndoo</span>
<div class="a" style="left:620.7px;top:467.0px;width:209.3px;height:51.1px;background:rgba(255,255,255,.86);border-radius:2px;box-shadow:0 2px 6px rgba(140,160,205,.26);"></div>
<span class="t" style="left:632.0px;top:479.8px;font-size:7px;color:#3a3f49;letter-spacing:-0.03px;">Panqas 6la</span>
<span class="t" style="left:632.0px;top:489.2px;font-size:6.4px;color:#c3c8d4;letter-spacing:0.29px;transform-origin:0 50%;transform:translateY(-50%) scaleX(1.080);">hgtsdbatrvngttwrsdtz</span>
<span class="t" style="left:632.0px;top:497.6px;font-size:6.6px;color:#aab3c6;letter-spacing:0.26px;">Ihaa Lagdg t mfl</span>
<span class="t" style="left:685.0px;top:497.6px;font-size:6.6px;color:#3a3f49;font-weight:700;letter-spacing:0.30px;transform-origin:0 50%;transform:translateY(-50%) scaleX(1.036);">Ivadt</span>
<span class="t" style="left:766.3px;top:491.5px;font-size:11.63px;color:#3a74d6;font-style:italic;letter-spacing:-0.22px;">JP&#x27;9</span>
<div class="a" style="left:793.8px;top:484.4px;width:24.5px;height:12.3px;background:#f1f3f9;border-radius:6.2px;border:.8px solid #cfd5e2;box-sizing:border-box;"></div>
<span class="t" style="left:798.0px;top:490.6px;font-size:5.8px;color:#a9b0bf;letter-spacing:0.26px;transform-origin:0 50%;transform:translateY(-50%) scaleX(1.147);">nnnn</span>
<span class="t" style="left:814.5px;top:479.8px;font-size:7px;color:#5a94e6;font-weight:700;letter-spacing:0.32px;transform-origin:0 50%;transform:translateY(-50%) scaleX(1.600);">»</span>
<div class="a" style="left:620.7px;top:513.5px;width:17.0px;height:10.5px;background:#dfe5f3;border-radius:1px;opacity:.8;"></div>
<span class="t" style="left:621.0px;top:527.5px;font-size:3.8px;color:#b7bdcb;letter-spacing:0.17px;transform-origin:0 50%;transform:translateY(-50%) scaleX(1.318);">ln nnn</span>
<div class="a" style="left:677.4px;top:511.2px;width:15.3px;height:7.6px;background:#f4f6fb;border-radius:3.8px;border:.7px solid #dfe3ed;box-sizing:border-box;"></div>
<div class="a" style="left:708.0px;top:510.8px;width:26.0px;height:8.0px;background:#f4f6fb;border-radius:2px;border:.7px solid #dfe3ed;box-sizing:border-box;"></div>
<span class="t" style="left:680.0px;top:515.0px;font-size:4.5px;color:#c3c8d4;letter-spacing:0.20px;transform-origin:0 50%;transform:translateY(-50%) scaleX(1.294);">nnn</span>
<span class="t" style="left:711.0px;top:514.8px;font-size:4.5px;color:#c9cdd8;letter-spacing:0.20px;transform-origin:0 50%;transform:translateY(-50%) scaleX(1.263);">nnnnnn</span>
<div class="a" style="left:673.0px;top:525.3px;width:62.0px;height:2.0px;background:rgba(255,255,255,.9);border-radius:1px;"></div>
<span class="t" style="left:842.2px;top:479.2px;font-size:6.8px;color:#262a33;font-weight:700;">Ruonstn</span>
<span class="t" style="left:842.2px;top:488.4px;font-size:6.3px;color:#b9bfcc;letter-spacing:-0.11px;">Tbfaaseng ntd Ltdwnde</span>
<span class="t" style="left:842.2px;top:496.4px;font-size:6.3px;color:#b9bfcc;letter-spacing:-0.08px;">Ihvnve tsutargPwLTdgVz</span>
<div class="a" style="left:620.7px;top:543.2px;width:307.9px;height:67.5px;background:#fff;border-radius:2px;box-shadow:0 1.500px 4px rgba(120,145,200,.34);"></div>
<span class="t" style="left:633.0px;top:556.7px;font-size:6.8px;color:#262a33;font-weight:700;letter-spacing:-0.15px;">Instdvevdve</span>
<div class="a" style="left:633.0px;top:567.3px;width:227.6px;height:8.1px;background:#1766e2;border-radius:4px;"></div>
<div class="a" style="left:633.0px;top:579.4px;width:129.6px;height:8.3px;background:#1766e2;border-radius:4px;"></div>
<div class="a" style="left:633.0px;top:567.3px;width:23.0px;height:20.4px;background:#1766e2;border-radius:4.5px;"></div>
<div class="a" style="left:655.7px;top:575.4px;width:6.0px;height:4.0px;background:linear-gradient(90deg,#1766e2,rgba(255,255,255,0));"></div>
<div class="a" style="left:638.5px;top:572.9px;width:11.0px;height:9.5px;background:transparent;border-radius:1.5px;border:1.300px solid rgba(255,255,255,.92);box-sizing:border-box;"></div>
<div class="a" style="left:641.0px;top:576.7px;width:6.0px;height:1.3px;background:rgba(255,255,255,.92);"></div>
<div class="a" style="left:646.5px;top:572.9px;width:1.3px;height:9.5px;background:rgba(255,255,255,.92);"></div>
<span class="t" style="left:675.0px;top:571.0px;font-size:4.4px;color:rgba(255,255,255,.8);letter-spacing:0.20px;transform-origin:0 50%;transform:translateY(-50%) scaleX(1.528);">wt ndntn clu mctrvemt nl 23</span>
<span class="t" style="left:772.0px;top:571.0px;font-size:4.4px;color:rgba(255,255,255,.75);letter-spacing:0.20px;transform-origin:0 50%;transform:translateY(-50%) scaleX(1.517);">ntbtznb</span>
<span class="t" style="left:808.0px;top:571.0px;font-size:4.4px;color:rgba(255,255,255,.8);letter-spacing:0.20px;transform-origin:0 50%;transform:translateY(-50%) scaleX(1.473);">ntts hgtdtbs</span>
<span class="t" style="left:767.8px;top:584.0px;font-size:6.5px;color:#4a4f5a;letter-spacing:0.25px;">Bassotta/Posts</span>
<span class="t" style="left:633.0px;top:597.2px;font-size:5.6px;color:#8ea9da;letter-spacing:0.25px;transform-origin:0 50%;transform:translateY(-50%) scaleX(1.102);">Afgsrtmuwmpgtmh aoddt amm tlutz</span>
<div class="a" style="left:878.0px;top:568.0px;width:21.5px;height:12.3px;background:#f4f5f9;border-radius:6.2px;border:.8px solid #d9dde6;box-sizing:border-box;"></div>
<span class="t" style="left:881.5px;top:574.2px;font-size:6.2px;color:#4a4f5a;font-weight:700;letter-spacing:0.28px;transform-origin:0 50%;transform:translateY(-50%) scaleX(1.216);">GS.</span>
<div class="a" style="left:900.7px;top:566.2px;width:16.0px;height:16.0px;background:#ece5dd;border-radius:8px;box-shadow:0 0 0 .6px #cfc6bb;overflow:hidden;"></div>
<div class="a" style="left:905.3px;top:568.5px;width:6.8px;height:12.5px;background:linear-gradient(180deg,#7a5238 0%,#a5744f 55%,#8a5e42 100%);border-radius:3.400px 3.400px 2px 2pxpx;"></div>
<div class="a" style="left:907.5px;top:570.2px;width:4.2px;height:4.2px;background:#e3bfa0;border-radius:2.1px;"></div>
<div class="a" style="left:620.7px;top:617.1px;width:307.9px;height:70.0px;background:#fff;border-radius:2px;box-shadow:0 1.500px 4px rgba(120,145,200,.34);"></div>
<span class="t" style="left:633.0px;top:630.6px;font-size:6.8px;color:#262a33;font-weight:700;">Pasortaean-Fsaod Vflwh</span>
<div class="a" style="left:633.0px;top:641.2px;width:227.6px;height:8.1px;background:#dd982f;border-radius:4px;"></div>
<div class="a" style="left:633.0px;top:653.3px;width:129.6px;height:8.3px;background:#dd982f;border-radius:4px;"></div>
<div class="a" style="left:633.0px;top:641.2px;width:23.0px;height:20.4px;background:#d18a24;border-radius:4.5px;"></div>
<div class="a" style="left:655.7px;top:649.3px;width:6.0px;height:4.0px;background:linear-gradient(90deg,#dd982f,rgba(255,255,255,0));"></div>
<div class="a" style="left:638.5px;top:646.8px;width:11.0px;height:9.5px;background:transparent;border-radius:1.5px;border:1.300px solid rgba(255,255,255,.92);box-sizing:border-box;"></div>
<div class="a" style="left:641.0px;top:650.6px;width:6.0px;height:1.3px;background:rgba(255,255,255,.92);"></div>
<div class="a" style="left:646.5px;top:646.8px;width:1.3px;height:9.5px;background:rgba(255,255,255,.92);"></div>
<span class="t" style="left:675.0px;top:644.9px;font-size:4.4px;color:rgba(255,255,255,.8);letter-spacing:0.20px;transform-origin:0 50%;transform:translateY(-50%) scaleX(1.528);">wt ndntn clu mctrvemt nl 23</span>
<span class="t" style="left:772.0px;top:644.9px;font-size:4.4px;color:rgba(255,255,255,.75);letter-spacing:0.20px;transform-origin:0 50%;transform:translateY(-50%) scaleX(1.517);">ntbtznb</span>
<span class="t" style="left:808.0px;top:644.9px;font-size:4.4px;color:rgba(255,255,255,.8);letter-spacing:0.20px;transform-origin:0 50%;transform:translateY(-50%) scaleX(1.473);">ntts hgtdtbs</span>
<div class="a" style="left:767.3px;top:656.3px;width:4.0px;height:4.0px;background:#e7a53a;border-radius:2px;"></div><span class="t" style="left:772.4px;top:658.4px;font-size:6.5px;color:#c98f34;letter-spacing:0.21px;">Boadtter/Bb</span>
<span class="t" style="left:633.0px;top:671.1px;font-size:5.6px;color:#8ea5cf;letter-spacing:0.25px;">Al Rwypattsdotdz vW Epvlttt mvgro toputlno</span>
<svg class="a" style="left:868px;top:641px" width="8" height="15" viewBox="0 0 8 15"><path d="M6 1.200C2.500 3 2.500 11.500 6 13.600" stroke="#f6ecd6" stroke-width="1.600" fill="none" stroke-linecap="round"/></svg>
<div class="a" style="left:879.6px;top:642.2px;width:20.0px;height:11.0px;background:#fff;border-radius:5.5px;border:.8px solid #e4e7ee;box-sizing:border-box;"></div>
<span class="t" style="left:882.5px;top:647.8px;font-size:6.2px;color:#4a4f5a;font-weight:700;letter-spacing:0.06px;">Anio</span>
<div class="a" style="left:900.7px;top:640.3px;width:16.0px;height:16.0px;background:#f1ece3;border-radius:8px;box-shadow:0 0 0 .7px #b9b1a2;"></div>
<div class="a" style="left:906.9px;top:643.5px;width:4.2px;height:4.2px;background:#b67a4a;border-radius:2.1px;"></div>
<div class="a" style="left:905.6px;top:648.8px;width:6.6px;height:5.2px;background:#c08250;border-radius:3.500px 3.500px 1px 1pxpx;"></div>
<div class="a" style="left:942.7px;top:434.5px;width:271.5px;height:9.8px;background:#fbfcff;"></div>
<div class="a" style="left:942.7px;top:444.3px;width:271.5px;height:133.8px;background:#fff;border-radius:2px;box-shadow:0 1.500px 4px rgba(120,145,200,.34);"></div>
<div class="a" style="left:942.7px;top:534.8px;width:271.5px;height:0.9px;background:#e9edf5;"></div>
<span class="t" style="left:954.8px;top:461.9px;font-size:7.2px;color:#2f7ad8;font-weight:700;letter-spacing:0.20px;">U/P&#x27;vord</span>
<div class="a" style="left:989.9px;top:458.7px;width:104.1px;height:7.0px;background:#10c88c;border-radius:3.5px;"></div>
<span class="t" style="left:1003.0px;top:462.2px;font-size:4.6px;color:rgba(255,255,255,.78);letter-spacing:0.21px;transform-origin:0 50%;transform:translateY(-50%) scaleX(1.095);">utnstcsbtnsd</span>
<span class="t" style="left:1071.0px;top:462.2px;font-size:4.6px;color:rgba(255,255,255,.85);letter-spacing:0.21px;transform-origin:0 50%;transform:translateY(-50%) scaleX(1.209);">5nbttuy</span>
<span class="t" style="left:1099.8px;top:461.9px;font-size:6.9px;color:#2e323b;letter-spacing:0.31px;transform-origin:0 50%;transform:translateY(-50%) scaleX(1.020);">Matut Blosevdare Adolte Tbns</span>
<div class="a" style="left:968.2px;top:475.2px;width:88.6px;height:6.4px;background:#eef1f7;border-radius:1px;"></div>
<span class="t" style="left:969.0px;top:478.4px;font-size:4.5px;color:#c3c8d4;letter-spacing:0.20px;transform-origin:0 50%;transform:translateY(-50%) scaleX(1.016);">Ig&#x27;t 2</span>
<div class="a" style="left:968.2px;top:485.2px;width:88.6px;height:0.8px;background:#e6e9f1;"></div>
<span class="t" style="left:953.9px;top:507.4px;font-size:7.2px;color:#1fbf86;letter-spacing:0.07px;">P(B)yvovs</span>
<div class="a" style="left:992.8px;top:504.9px;width:100.2px;height:5.8px;background:#10c88c;border-radius:2.9px;"></div>
<span class="t" style="left:996.0px;top:507.8px;font-size:4.4px;color:rgba(255,255,255,.8);letter-spacing:0.20px;transform-origin:0 50%;transform:translateY(-50%) scaleX(1.238);">ottnytdzz</span>
<span class="t" style="left:1030.0px;top:507.8px;font-size:4.4px;color:rgba(255,255,255,.8);letter-spacing:0.20px;transform-origin:0 50%;transform:translateY(-50%) scaleX(1.171);">Ertsbz</span>
<span class="t" style="left:1072.0px;top:507.8px;font-size:4.4px;color:rgba(255,255,255,.8);letter-spacing:0.20px;transform-origin:0 50%;transform:translateY(-50%) scaleX(1.342);">4tBsst</span>
<span class="t" style="left:1097.9px;top:507.4px;font-size:6.8px;color:#5a6070;letter-spacing:0.31px;transform-origin:0 50%;transform:translateY(-50%) scaleX(1.017);">Wevdld</span>
<div class="a" style="left:1168.9px;top:501.7px;width:34.4px;height:11.8px;background:#fff;border-radius:5.9px;border:.8px solid #dfe3ec;box-sizing:border-box;"></div>
<span class="t" style="left:1177.5px;top:507.4px;font-size:8.5px;color:#9a9fa9;">▸</span>
<span class="t" style="left:1188.5px;top:507.4px;font-size:8.5px;color:#b1b5bd;">▸</span>
<span class="t" style="left:953.9px;top:520.2px;font-size:6.4px;color:#4a4f5a;letter-spacing:0.20px;">Vftch tag</span>
<div class="a" style="left:985.1px;top:517.0px;width:76.5px;height:6.7px;background:#1d6ae2;border-radius:3.35px;"></div>
<span class="t" style="left:1066.3px;top:520.2px;font-size:6.8px;color:#3a3f49;letter-spacing:0.20px;">wn Ftandoub</span>
<span class="t" style="left:954.8px;top:553.6px;font-size:7.2px;color:#ee5a4f;letter-spacing:0.22px;">R(N rverd</span>
<div class="a" style="left:992.8px;top:550.4px;width:89.2px;height:6.4px;background:#f26458;border-radius:3.2px;"></div>
<span class="t" style="left:998.0px;top:553.8px;font-size:4.4px;color:rgba(255,255,255,.6);letter-spacing:0.20px;transform-origin:0 50%;transform:translateY(-50%) scaleX(1.325);">ntmttotzbt nnnntn nsndttz</span>
<span class="t" style="left:1085.0px;top:553.6px;font-size:6.8px;color:#3a3f49;letter-spacing:0.09px;">Vu b-Bkonon kfy</span>
<div class="a" style="left:1168.9px;top:547.2px;width:34.4px;height:11.8px;background:#fff;border-radius:5.9px;border:.8px solid #dfe3ec;box-sizing:border-box;"></div>
<span class="t" style="left:1177.5px;top:552.9px;font-size:8.5px;color:#9a9fa9;">▸</span>
<span class="t" style="left:1188.5px;top:552.9px;font-size:8.5px;color:#b1b5bd;">▸</span>
<span class="t" style="left:954.8px;top:566.0px;font-size:6.2px;color:#3f5f9a;letter-spacing:0.25px;">B.VA 2.13</span>
<div class="a" style="left:987.3px;top:563.2px;width:27.1px;height:6.0px;background:#1d6ae2;border-radius:3px;"></div>
<span class="t" style="left:1017.6px;top:566.0px;font-size:6.4px;color:#2f6fd8;font-weight:700;letter-spacing:0.02px;">A BIUO</span>
<span class="t" style="left:1044.7px;top:566.0px;font-size:6.3px;color:#4a4f5a;letter-spacing:0.11px;">antd6 5/dt10ilies</span>
<div class="a" style="left:942.7px;top:583.9px;width:271.5px;height:53.2px;background:#fff;border-radius:2px;box-shadow:0 1.500px 4px rgba(120,145,200,.34);"></div>
<span class="t" style="left:953.9px;top:597.3px;font-size:7px;color:#2e323b;letter-spacing:-0.03px;">Padanpotloars Bidaprds</span>
<span class="t" style="left:953.9px;top:612.2px;font-size:7px;color:#7fb4ea;letter-spacing:0.21px;">Yltnrvlxug</span>
<div class="a" style="left:988.9px;top:609.4px;width:102.0px;height:5.7px;background:#d7e4f5;border-radius:2.85px;"></div>
<span class="t" style="left:1094.0px;top:612.2px;font-size:6.2px;color:#4a4f5a;letter-spacing:-0.11px;">1Slanoy/y</span>
<div class="a" style="left:954.8px;top:621.1px;width:6.4px;height:6.4px;background:#dbe6f7;border-radius:3.2px;box-shadow:0 0 0 .6px #a9c3ea;"></div>
<span class="t" style="left:964.4px;top:624.3px;font-size:6px;color:#8fb5e8;letter-spacing:0.07px;">Svtuat Boeurs aep tuuser vdenstuniare</span>
<span class="t" style="left:1075.5px;top:624.3px;font-size:5.5px;color:#6a7080;letter-spacing:-0.08px;">m</span>
<span class="t" style="left:1085.0px;top:624.3px;font-size:6.6px;color:#3a3f49;letter-spacing:0.25px;">andkry&#x27;</span>
<div class="a" style="left:1168.9px;top:604.6px;width:34.4px;height:11.8px;background:#fff;border-radius:5.9px;border:.8px solid #dfe3ec;box-sizing:border-box;"></div>
<span class="t" style="left:1177.5px;top:610.3px;font-size:8.5px;color:#9a9fa9;">▸</span>
<span class="t" style="left:1188.5px;top:610.3px;font-size:8.5px;color:#b1b5bd;">▸</span>
<div class="a" style="left:942.7px;top:642.8px;width:271.5px;height:44.0px;background:#fff;border-radius:2px;box-shadow:0 1.500px 4px rgba(120,145,200,.34);"></div>
<span class="t" style="left:953.9px;top:657.5px;font-size:7px;color:#2e323b;letter-spacing:-0.06px;">DvMkpton eopipofs</span>
<div class="a" style="left:1168.9px;top:649.8px;width:34.4px;height:11.8px;background:#fff;border-radius:5.9px;border:.8px solid #dfe3ec;box-sizing:border-box;"></div>
<span class="t" style="left:1177.5px;top:655.5px;font-size:8.5px;color:#9a9fa9;">▸</span>
<span class="t" style="left:1188.5px;top:655.5px;font-size:8.5px;color:#b1b5bd;">▸</span>
<span class="t" style="left:953.9px;top:673.7px;font-size:6px;color:#a9b0bf;letter-spacing:0.27px;transform-origin:0 50%;transform:translateY(-50%) scaleX(1.040);">© q1</span>
<div class="a" style="left:975.6px;top:671.2px;width:172.0px;height:6.3px;background:#e8edf8;border-radius:3.15px;"></div>
</div>
</body></html>
